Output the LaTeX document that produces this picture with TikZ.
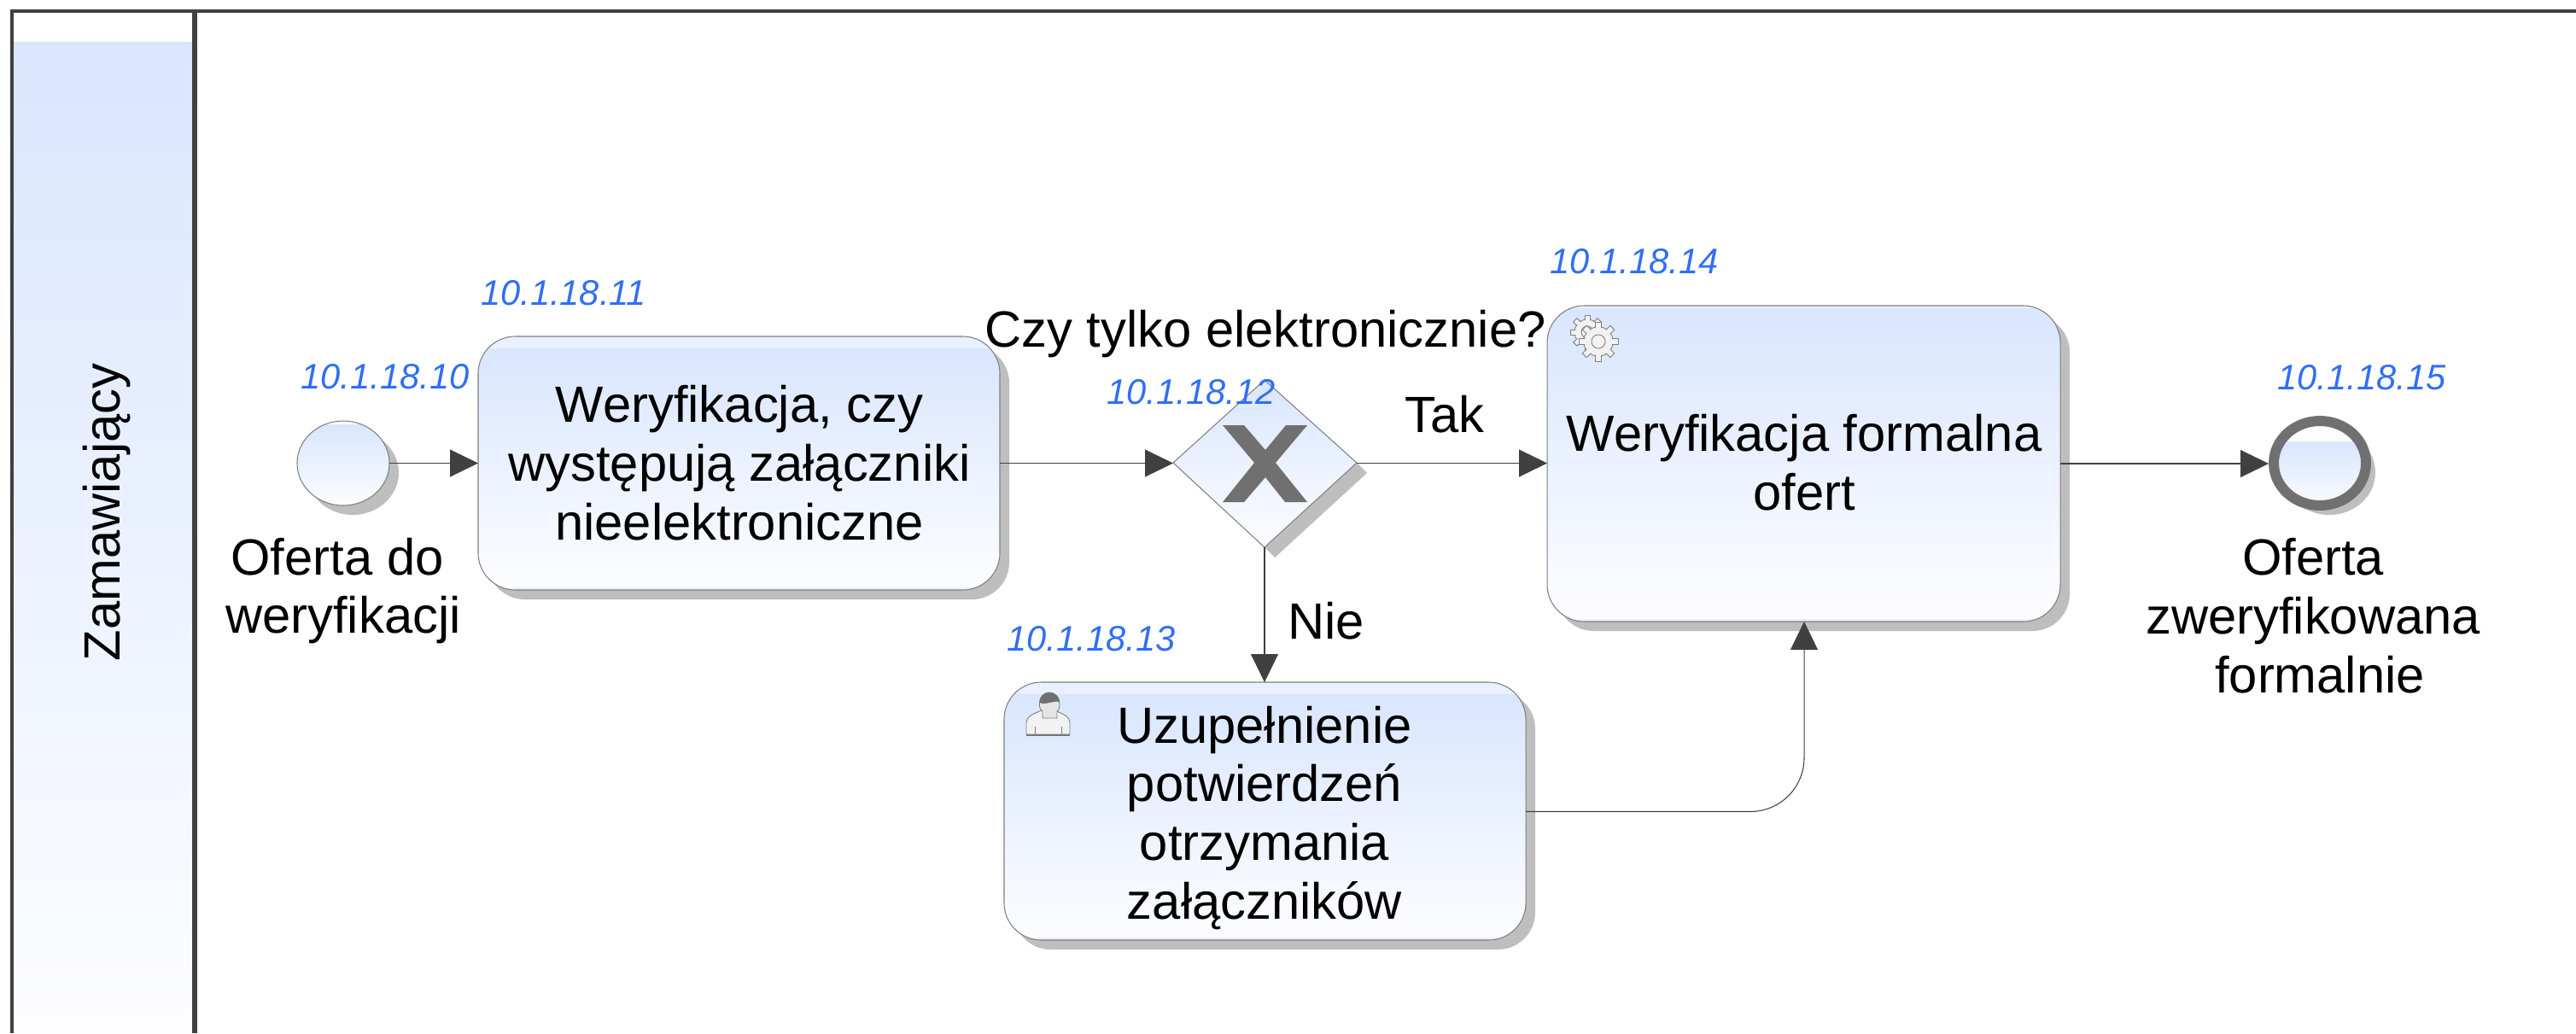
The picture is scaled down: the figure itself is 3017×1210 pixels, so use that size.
\documentclass[tikz,border=0pt]{standalone}
\usepackage{fontspec}
\setmainfont{Liberation Sans}
\usetikzlibrary{arrows.meta}
\definecolor{linegray}{HTML}{7F7F7F}
\definecolor{framegray}{HTML}{404040}
\definecolor{markgray}{HTML}{707070}
\definecolor{shadowgray}{HTML}{BEBEBE}
\definecolor{flowtop}{HTML}{D9E6FE}
\definecolor{flowbot}{HTML}{FDFDFF}
\definecolor{bandtop}{HTML}{EAF0FF}
\definecolor{idblue}{HTML}{2F6FF5}
\pgfdeclareverticalshading{flowgrad}{100bp}{color(0bp)=(flowbot); color(25bp)=(flowbot); color(75bp)=(flowtop); color(100bp)=(flowtop)}
\tikzset{
  x=0.02cm,y=-0.02cm,
  taskcorner/.style={rounded corners=0.87cm},
  outline/.style={draw=linegray,line width=0.6pt},
  shadowbox/.style={taskcorner,fill=shadowgray,draw=none},
  flowtip/.style={-{Triangle[length=0.66cm,width=0.64cm,color=framegray,fill=framegray]}},
  flow/.style={draw=framegray,line width=0.6pt,flowtip},
  lbl/.style={font=\fontsize{34}{39.2}\selectfont,align=center,text=black,inner sep=0pt},
  idlbl/.style={font=\fontsize{23.7}{27}\selectfont\itshape,text=idblue,inner sep=0pt},
  icon/.style={draw=linegray,line width=0.5pt,fill=black!5},
  gearbody/.style={fill=black!5,draw=none},
}
% task box: x1 y1 x2 y2 top band height
\newcommand{\taskshape}[5]{%
  \begin{scope}
    \clip[taskcorner] (#1,#2) rectangle (#3,#4);
    \fill[bandtop] (#1,#2) rectangle (#3,#4);
    \shade[shading=flowgrad] (#1,#2+#5) rectangle (#3,#4-4);
  \end{scope}
  \draw[outline,taskcorner] (#1,#2) rectangle (#3,#4);
}
\newcommand{\gearshape}[3]{%
  \begin{scope}[shift={(#1,#2)},scale=#3]
    \draw[icon] (0,0) circle (15 and 15);
    \foreach \a in {0,45,...,315}
      \draw[icon,rotate=\a] (-3,-20) rectangle (3,-13);
    \fill[gearbody] (0,0) circle (14 and 14);
    \draw[linegray,line width=0.5pt] (0,0) circle (7 and 7);
  \end{scope}}
\begin{document}
\begin{tikzpicture}
\useasboundingbox (0,0) rectangle (3017,1210);
\fill[white] (0,0) rectangle (3017,1210);
% pool header
\shade[shading=flowgrad] (16,49) rectangle (225,1210);
\draw[framegray,line width=2.1pt] (14,1210) -- (14,13) -- (3017,13);
\draw[framegray,line width=3.1pt] (228,13) -- (228,1210);
\node[rotate=90,lbl] (pool) at (125,600) {Zamawiający};
% shadows
\fill[shadowgray] (413,553.5) ellipse (54 and 49.5);
\fill[shadowgray] (2728,553.5) ellipse (54 and 49.5);
\fill[shadowbox] (571,405) rectangle (1182,702);
\fill[shadowbox] (1823,369) rectangle (2424,739);
\fill[shadowbox] (1187,810) rectangle (1798,1112);
\fill[shadowgray] (1589,542) -- (1601,554) -- (1493,653) -- (1481,641) -- cycle;
% start event
\coordinate (startC) at (402,542.5);
\coordinate (startE) at (456,542.5);
\begin{scope}
  \clip (startC) ellipse (54 and 49.5);
  \shade[shading=flowgrad] (348,497) rectangle (456,592);
\end{scope}
\draw[outline] (startC) ellipse (54 and 49.5);
% task 1
\taskshape{560}{394}{1171}{691}{14}
\coordinate (t1W) at (560,542.5); \coordinate (t1E) at (1171,542.5);
\node[lbl] (t1) at (866,542) {Weryfikacja, czy\\występują załączniki\\nieelektroniczne};
% gateway
\shade[shading=flowgrad] (1374,542) -- (1481,445) -- (1589,542) -- (1481,641) -- cycle;
\draw[outline] (1374,542) -- (1481,445) -- (1589,542) -- (1481,641) -- cycle;
\coordinate (gW) at (1374,542.5); \coordinate (gE) at (1589,542.5); \coordinate (gS) at (1481,641);
\fill[markgray] (1432,498) -- (1457,498) -- (1482,527) -- (1506,498) -- (1531,498) -- (1494,542) -- (1531,588) -- (1505,588) -- (1482,559) -- (1457,588) -- (1432,588) -- (1469,542) -- cycle;
% task 4
\taskshape{1812}{358}{2413}{728}{3}
\coordinate (t4W) at (1812,542.5); \coordinate (t4E) at (2413,543); \coordinate (t4S) at (2113,728);
\node[lbl] (t4) at (2113,542) {Weryfikacja formalna\\ofert};
% task 3
\taskshape{1176}{799}{1787}{1101}{14}
\coordinate (t3N) at (1481,799); \coordinate (t3E) at (1787,950.5);
\node[lbl] (t3) at (1481,958) {Uzupełnienie\\potwierdzeń\\otrzymania\\załączników};
% end event
\coordinate (endC) at (2717,542.5);
\coordinate (endW) at (2657,543);
\begin{scope}
  \clip (endC) ellipse (54 and 49.5);
  \fill[white] (2663,493) rectangle (2771,517);
  \shade[shading=flowgrad] (2663,517) rectangle (2771,600);
\end{scope}
\draw[markgray,line width=6.8pt] (endC) ellipse (54 and 49.5);
% user icon
\begin{scope}[shift={(1202,811)}]
  \fill[markgray] (0,47) rectangle (51,51);
  \draw[icon] (0,49) -- (0,36) .. controls (0,28) and (8,25) .. (18,21) -- (33,21) .. controls (43,25) and (51,28) .. (51,36) -- (51,49) -- cycle;
  \draw[icon,fill=black!10] (19,30) -- (19,22) .. controls (12,18) and (15,0) .. (27,0) .. controls (39,0) and (42,18) .. (36,22) -- (36,30) -- cycle;
  \fill[markgray] (15.5,12) .. controls (15,5) and (20,0) .. (27,0) .. controls (34,0) and (39,5) .. (39,11) .. controls (33,9) and (23,15) .. (15.5,12) -- cycle;
  \draw[linegray,line width=0.4pt] (10,49) -- (10,40) (41,49) -- (41,40);
\end{scope}
% gears icon
\gearshape{1859}{389}{1}
\gearshape{1872}{400}{1.15}
% connectors
\draw[flow] (startE) -- (t1W);
\draw[flow] (t1E) -- (gW);
\draw[flow] (gE) -- (t4W);
\draw[flow] (t4E) -- (endW);
\draw[flow] (gS) -- (t3N);
\draw[flow,rounded corners=1.26cm] (t3E) -- (2113,950.5) -- (t4S);
% labels
\node[lbl] (startlbl) at (402,692) {Oferta do\hspace*{0.28cm}\\weryfikacji};
\node[lbl] (endlbl) at (2709,721) {Oferta\\zweryfikowana\\\hspace*{0.32cm}formalnie};
\node[lbl] (qlbl) at (1482,391) {Czy tylko elektronicznie?};
\node[lbl] (tak) at (1692,485) {Tak};
\node[lbl] (nie) at (1553,727) {Nie};
\node[idlbl] (id10) at (451,441.5) {10.1.18.10};
\node[idlbl] (id11) at (660,343.5) {10.1.18.11};
\node[idlbl] (id12) at (1395,459) {10.1.18.12};
\node[idlbl] (id13) at (1278,748.5) {10.1.18.13};
\node[idlbl] (id14) at (1914,306.5) {10.1.18.14};
\node[idlbl] (id15) at (2766,442.5) {10.1.18.15};
\end{tikzpicture}
\end{document}
